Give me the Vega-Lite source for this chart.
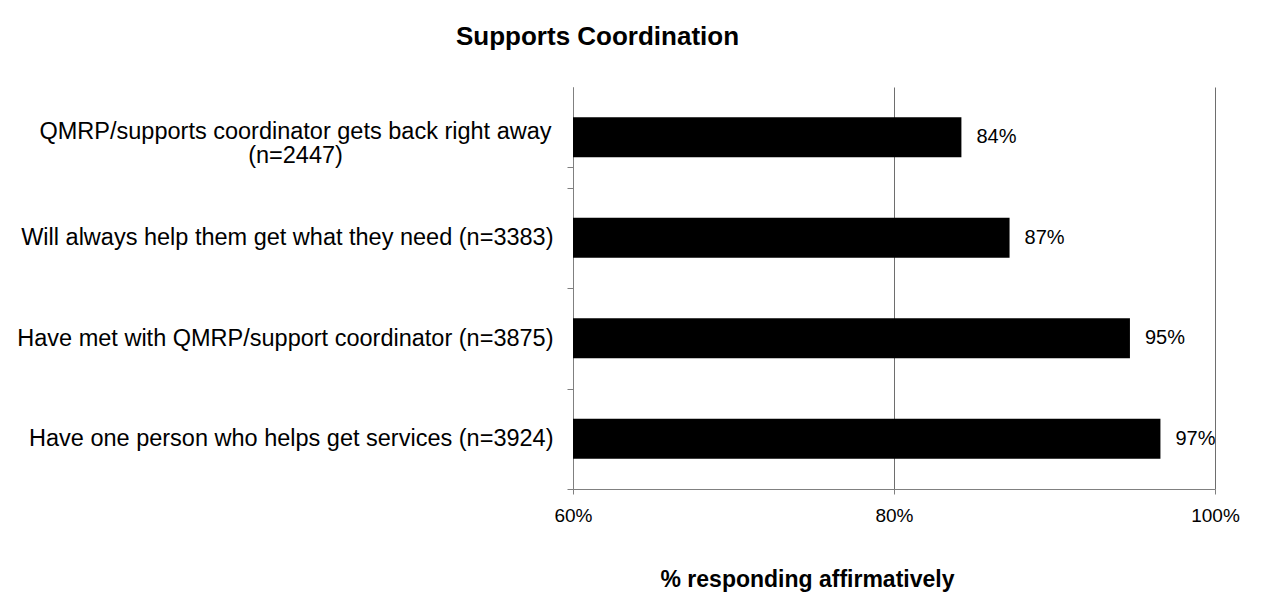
{
  "$schema": "https://vega.github.io/schema/vega-lite/v6.json",
  "autosize": {"type": "none"},
  "padding": {"left": 573, "top": 87, "right": 55, "bottom": 104},
  "width": 642,
  "height": 402,
  "background": "white",
  "title": {
    "text": "Supports Coordination",
    "anchor": "start",
    "frame": "group",
    "dx": -117,
    "offset": 25,
    "font": "Liberation Sans",
    "fontSize": 26,
    "fontWeight": "bold",
    "color": "black"
  },
  "data": {
    "values": [
      {"question": "QMRP/supports coordinator gets back right away (n=2447)", "pct": 0.842},
      {"question": "Will always help them get what they need (n=3383)", "pct": 0.872},
      {"question": "Have met with QMRP/support coordinator (n=3875)", "pct": 0.947},
      {"question": "Have one person who helps get services (n=3924)", "pct": 0.966}
    ]
  },
  "encoding": {
    "y": {
      "field": "question",
      "type": "nominal",
      "sort": null,
      "scale": {"paddingInner": 0.6, "paddingOuter": 0.3},
      "axis": {
        "title": null,
        "tickOffset": 50.25,
        "labelOffset": {
          "condition": {"test": "datum.value == 'QMRP/supports coordinator gets back right away (n=2447)'", "value": -56.25},
          "value": -50.25
        },
        "labelAlign": {
          "condition": {"test": "datum.value == 'QMRP/supports coordinator gets back right away (n=2447)'", "value": "center"},
          "value": "right"
        },
        "labelPadding": {
          "condition": {"test": "datum.value == 'QMRP/supports coordinator gets back right away (n=2447)'", "value": 272},
          "value": 14
        },
        "tickExtra": true,
        "tickSize": 6,
        "tickColor": "#808080",
        "domainColor": "#808080",
        "labelFont": "Liberation Sans",
        "labelFontSize": 23.5,
        "labelColor": "black",
        "labelLimit": 0,
        "labelLineHeight": 24,
        "labelExpr": "datum.value == 'QMRP/supports coordinator gets back right away (n=2447)' ? ['QMRP/supports coordinator gets back right away', '(n=2447)'] : datum.value"
      }
    },
    "x": {
      "field": "pct",
      "type": "quantitative",
      "scale": {"domain": [0.6, 1.0], "nice": false, "zero": false},
      "axis": {
        "title": "% responding affirmatively",
        "titleFont": "Liberation Sans",
        "titleFontSize": 23,
        "titleFontWeight": "bold",
        "titleColor": "black",
        "titleX": 234,
        "titleY": 97,
        "titleBaseline": "alphabetic",
        "values": [0.6, 0.8, 1.0],
        "format": ".0%",
        "grid": true,
        "gridColor": "#6e6e6e",
        "gridWidth": 1,
        "tickSize": 5,
        "tickColor": "#808080",
        "domainColor": "#808080",
        "labelPadding": 12,
        "labelFlush": false,
        "labelFont": "Liberation Sans",
        "labelFontSize": 19,
        "labelColor": "black"
      }
    }
  },
  "layer": [
    {
      "mark": {"type": "bar", "color": "black", "clip": true}
    },
    {
      "mark": {
        "type": "text",
        "align": "left",
        "dx": 15,
        "font": "Liberation Sans",
        "fontSize": 20,
        "color": "black"
      },
      "encoding": {
        "text": {"field": "pct", "type": "quantitative", "format": ".0%"}
      }
    }
  ],
  "config": {
    "view": {"stroke": null}
  }
}
